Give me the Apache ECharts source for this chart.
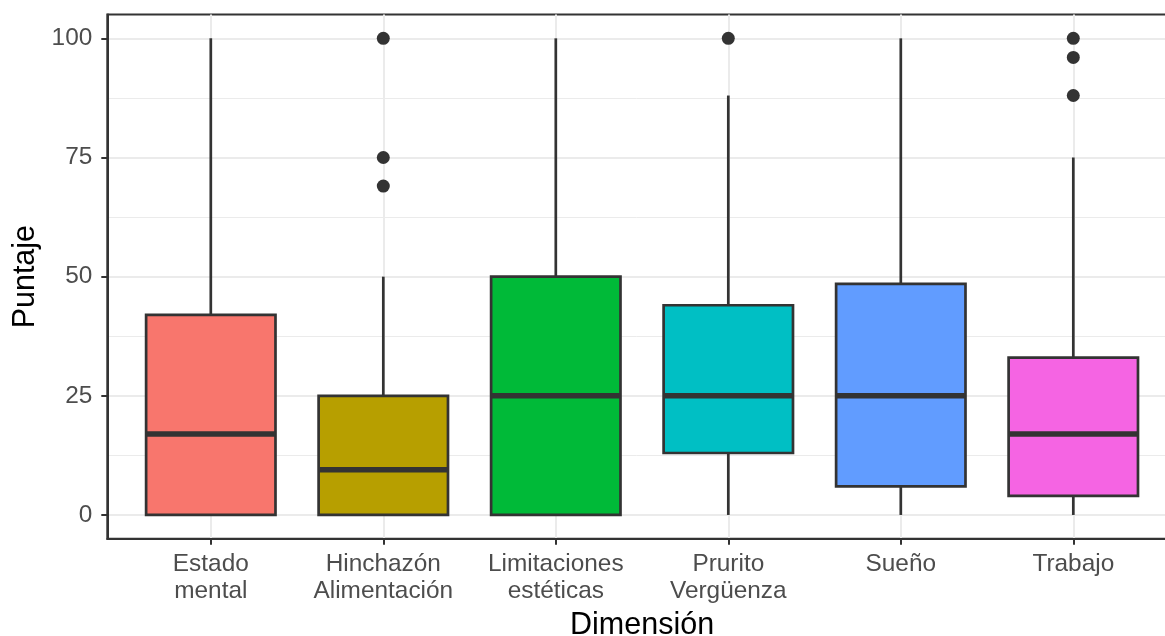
<!DOCTYPE html>
<html><head><meta charset="utf-8">
<script src="https://cdn.jsdelivr.net/npm/echarts@6/dist/echarts.min.js"></script>
<style>html,body{margin:0;padding:0;background:#fff}#c{width:1165px;height:636px}</style>
</head><body><div id="c"></div>
<script>
const categories = ['Estado\nmental', 'Hinchazón\nAlimentación', 'Limitaciones\nestéticas', 'Prurito\nVergüenza', 'Sueño', 'Trabajo'];
const categoryPositions = [1, 2, 3, 4, 5, 6];
const whiskerLow = [0, 0, 0, 0, 0, 0];
const q1 = [0, 0, 0, 13, 6, 4];
const median = [17, 9.5, 25, 25, 25, 17];
const q3 = [42, 25, 50, 44, 48.5, 33];
const whiskerHigh = [100, 50, 100, 88, 100, 75];
const outlierCategory = [2, 2, 2, 4, 6, 6, 6];
const outlierValue = [69, 75, 100, 100, 88, 96, 100];
const yTicks = [0, 25, 50, 75, 100];
const yMinorTicks = [12.5, 37.5, 62.5, 87.5];
const boxColors = ['#F8766D', '#B79F00', '#00BA38', '#00BFC4', '#619CFF', '#F564E3'];

const boxData = categories.map((c, i) => [categoryPositions[i], whiskerLow[i], q1[i], median[i], q3[i], whiskerHigh[i], i]);
const outlierData = outlierCategory.map((c, i) => [c, outlierValue[i]]);

const STROKE = '#333333';
function renderBox(params, api) {
  const x = api.value(0);
  const lo = api.coord([x, api.value(1)]);
  const b1 = api.coord([x, api.value(2)]);
  const md = api.coord([x, api.value(3)]);
  const b3 = api.coord([x, api.value(4)]);
  const hi = api.coord([x, api.value(5)]);
  const w = api.size([0.75, 0])[0];
  const color = boxColors[api.value(6)];
  return {
    type: 'group',
    children: [
      { type: 'line', shape: { x1: hi[0], y1: hi[1], x2: b3[0], y2: b3[1] }, style: { stroke: STROKE, lineWidth: 2.7 } },
      { type: 'line', shape: { x1: lo[0], y1: lo[1], x2: b1[0], y2: b1[1] }, style: { stroke: STROKE, lineWidth: 2.7 } },
      { type: 'rect', shape: { x: b3[0] - w / 2, y: b3[1], width: w, height: b1[1] - b3[1] }, style: { fill: color, stroke: STROKE, lineWidth: 2.7 } },
      { type: 'line', shape: { x1: md[0] - w / 2, y1: md[1], x2: md[0] + w / 2, y2: md[1] }, style: { stroke: STROKE, lineWidth: 5.5 } }
    ]
  };
}

const chart = echarts.init(document.getElementById('c'), null, { renderer: 'canvas' });
chart.setOption({
  animation: false,
  backgroundColor: '#ffffff',
  textStyle: { fontFamily: '"Liberation Sans", Arial, sans-serif' },
  grid: {
    left: 107.3, right: -11.8, top: 14.5, bottom: 97.2,
    containLabel: false, outerBoundsMode: 'none',
    show: true, borderColor: STROKE, borderWidth: 2, backgroundColor: 'transparent'
  },
  xAxis: {
    type: 'value', min: 0.4, max: 6.6,
    name: 'Dimensión', nameLocation: 'middle', nameGap: 70,
    nameTextStyle: { fontSize: 30.5, color: '#000000', lineHeight: 30.5 },
    axisLine: { show: true, onZero: false, lineStyle: { color: STROKE, width: 2 } },
    axisTick: { show: true, customValues: categoryPositions, length: 6, lineStyle: { color: STROKE, width: 2 } },
    axisLabel: {
      customValues: categoryPositions,
      formatter: v => categories[Math.round(v) - 1],
      fontSize: 24.4, color: '#4D4D4D', lineHeight: 27, margin: 12
    },
    splitLine: { show: true, lineStyle: { color: '#EBEBEB', width: 2 } }
  },
  yAxis: [{
    type: 'value', min: -5, max: 105,
    name: 'Puntaje', nameLocation: 'middle', nameGap: 66, nameRotate: 90,
    nameTextStyle: { fontSize: 30.5, color: '#000000', lineHeight: 30.5 },
    axisLine: { show: true, onZero: false, lineStyle: { color: STROKE, width: 2 } },
    axisTick: { show: true, customValues: yTicks, length: 6, lineStyle: { color: STROKE, width: 2 } },
    axisLabel: { customValues: yTicks, fontSize: 24.4, color: '#4D4D4D', margin: 15 },
    splitLine: { show: true, lineStyle: { color: '#EBEBEB', width: 2 } }
  }, {
    type: 'value', min: -5, max: 105, position: 'left',
    axisLine: { show: false },
    axisTick: { show: false, customValues: yMinorTicks },
    axisLabel: { show: false, customValues: yMinorTicks },
    splitLine: { show: true, lineStyle: { color: '#EBEBEB', width: 1 } }
  }],
  series: [{
    type: 'custom',
    renderItem: renderBox,
    data: boxData,
    encode: { x: 0, y: [1, 2, 3, 4, 5] },
    yAxisIndex: 0,
    z: 3
  }, {
    type: 'scatter',
    data: outlierData,
    yAxisIndex: 0,
    symbol: 'circle',
    symbolSize: 13,
    itemStyle: { color: STROKE, opacity: 1 },
    z: 4
  }]
});
</script>
</body></html>
